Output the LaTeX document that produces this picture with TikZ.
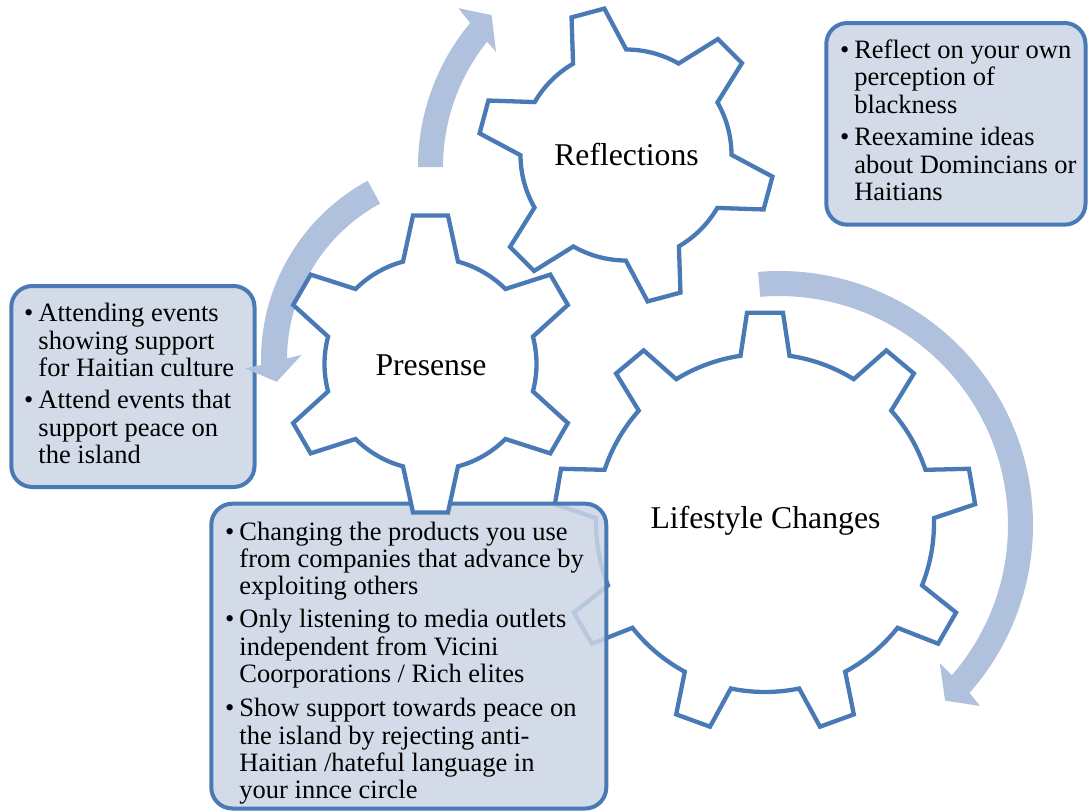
\documentclass[tikz,border=0pt]{standalone}
\usepackage{fontspec}
\setmainfont{Liberation Serif}

\definecolor{gearblue}{RGB}{74,122,182}
\definecolor{arrowblue}{RGB}{176,193,222}
\definecolor{boxfill}{RGB}{203,213,229}

\tikzset{
  gearshape/.style={draw=gearblue, line width=4.3pt, fill=white, line join=miter},
  bandarrow/.style={fill=arrowblue, draw=none},
  notebox/.style={draw=gearblue, line width=4pt, fill=boxfill, fill opacity=0.85,
    draw opacity=1, rounded corners=21pt},
  gearlabel/.style={anchor=base, inner sep=0pt, font=\fontsize{31.7}{38}\selectfont},
  notetext/.style={anchor=base west, inner sep=0pt, font=\fontsize{26.5}{27.4}\selectfont},
}

% gear outline: centre x, centre y, teeth, first tooth angle,
% tip radius, root radius, tip half width, base half width
\newcommand\gearoutline[8]{%
  \pgfmathsetmacro\gstep{360/#3}%
  \pgfmathsetmacro\gbt{asin(#7/#5)}%
  \pgfmathsetmacro\gbb{asin(#8/#6)}%
  \pgfmathtruncatemacro\glast{#3-1}%
  \pgfmathsetmacro\gstart{#4-\gbb}%
  \path[gearshape, shift={(#1,#2)}] (\gstart:#6pt)
    \foreach \k [evaluate=\k as \ga using #4+\k*\gstep-\gbt,
                 evaluate=\k as \gb using #4+\k*\gstep+\gbt,
                 evaluate=\k as \gc using #4+\k*\gstep+\gbb,
                 evaluate=\k as \gd using #4+(\k+1)*\gstep-\gbb] in {0,...,\glast}
      { -- (\ga:#5pt) -- (\gb:#5pt) -- (\gc:#6pt)
        arc[start angle=\gc, end angle=\gd, radius=#6pt] }
    -- cycle;
}

\begin{document}
\begin{tikzpicture}[x=1pt, y=1pt]
\useasboundingbox (0,0) rectangle (1088,-811);

% side boxes
\path[notebox] (11.3,-286) rectangle (254.5,-487);
\path[notebox] (826.3,-23) rectangle (1085.5,-224.7);

% curved arrows
\begin{scope}[shift={(643,-167)}]
  \fill[bandarrow] (180:200pt) -- (180:225pt)
    arc[start angle=180, end angle=140.2, radius=225pt]
    -- (139.3:243.5pt) -- (134.9:214.5pt) -- (141.9:186.8pt) -- (141.2:200pt)
    arc[start angle=141.2, end angle=180, radius=200pt] -- cycle;
\end{scope}
\begin{scope}[shift={(465,-360)}]
  \fill[bandarrow] (118.5:178pt) -- (118.5:204pt)
    arc[start angle=118.5, end angle=181.4, radius=204pt]
    -- (182.2:220.2pt) -- (186.6:189.5pt) -- (178.2:163.4pt) -- (179.5:178pt)
    arc[start angle=179.5, end angle=118.5, radius=178pt] -- cycle;
\end{scope}
\begin{scope}[shift={(779,-525)}]
  \fill[bandarrow] (94.7:229pt) -- (94.7:254pt)
    arc[start angle=94.7, end angle=-41.4, radius=254pt]
    -- (-42.0:270.5pt) -- (-46.6:241.7pt) -- (-40.7:212.2pt) -- (-41.0:229pt)
    arc[start angle=-41.0, end angle=94.7, radius=229pt] -- cycle;
\end{scope}

% large gear, then the lower box over it
\gearoutline{765}{-523}{9}{90}{211}{169}{18}{24.5}
\path[notebox] (211.3,-503.7) rectangle (606.3,-808.5);

% small gears
\gearoutline{626}{-155}{6}{105}{148}{105.5}{17}{27.5}
\gearoutline{430.5}{-364}{6}{90}{149.5}{106}{17.5}{27.5}

% gear labels
\node[gearlabel] (refl) at (626.5,-165) {Reflections};
\node[gearlabel] (pres) at (431,-375) {Presense};
\node[gearlabel] (life) at (765.5,-528.3) {Lifestyle Changes};

% box texts
\node[notetext] (presnote) at (24,-321.7) {%
  \begin{tabular}[t]{@{}l@{\hspace{5pt}}l@{}}
  • & Attending events\\
    & showing support\\
    & for Haitian culture\\[4.9pt]
  • & Attend events that\\
    & support peace on\\
    & the island
  \end{tabular}};

\node[notetext] (reflnote) at (839.8,-58.3) {%
  \begin{tabular}[t]{@{}l@{\hspace{5pt}}l@{}}
  • & Reflect on your own\\
    & perception of\\
    & blackness\\[5.3pt]
  • & Reexamine ideas\\
    & about Domincians or\\
    & Haitians
  \end{tabular}};

\node[notetext] (lifenote) at (225,-540) {%
  \begin{tabular}[t]{@{}l@{\hspace{5pt}}l@{}}
  • & Changing the products you use\\
    & from companies that advance by\\
    & exploiting others\\[5.4pt]
  • & Only listening to media outlets\\
    & independent from Vicini\\
    & Coorporations / Rich elites\\[6.9pt]
  • & Show support towards peace on\\
    & the island by rejecting anti-\\
    & Haitian /hateful language in\\
    & your innce circle
  \end{tabular}};
\end{tikzpicture}
\end{document}
